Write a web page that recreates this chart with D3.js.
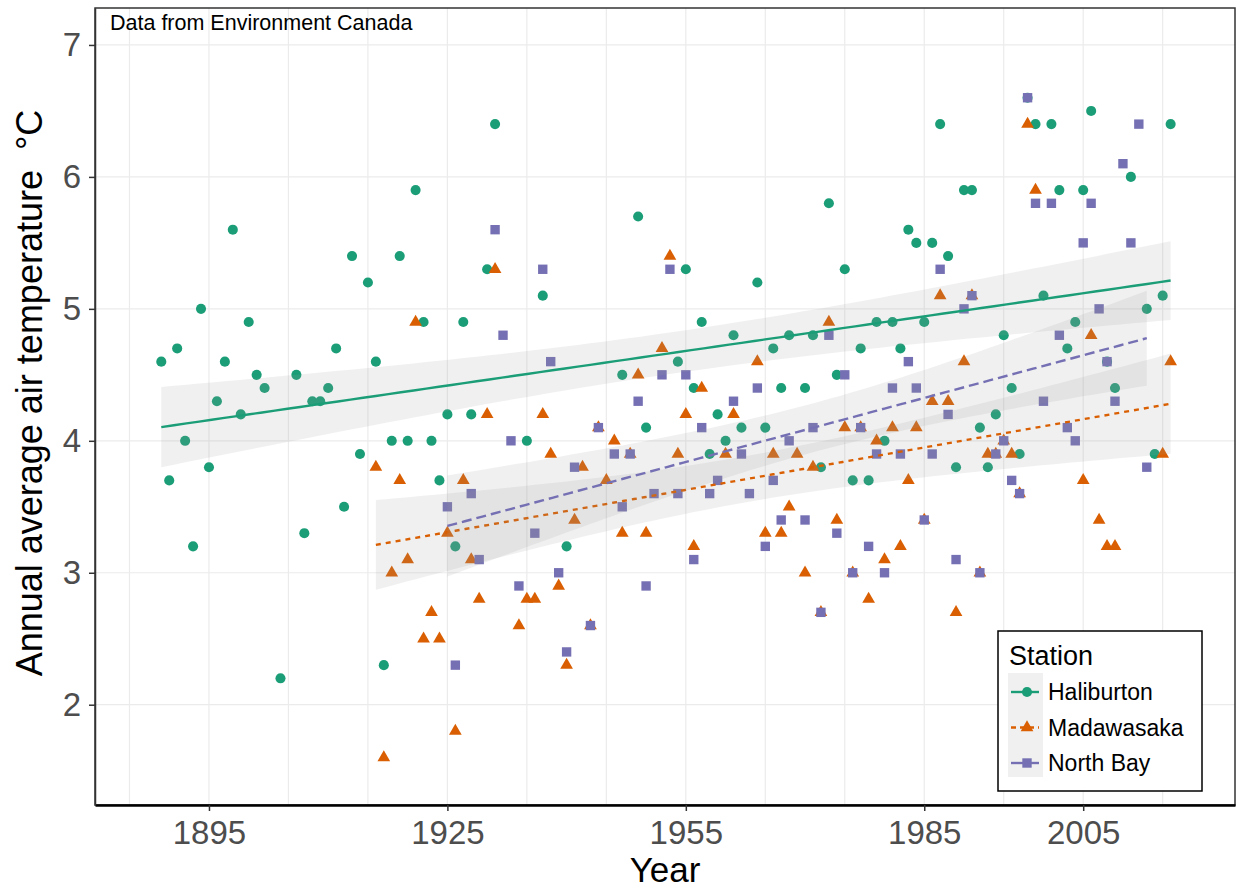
<!DOCTYPE html>
<html>
<head>
<meta charset="utf-8">
<script src="https://cdn.jsdelivr.net/npm/d3@7/dist/d3.min.js"></script>
<style>
  body { margin: 0; background: #fff; }
  svg { display: block; font-family: "Liberation Sans", Arial, sans-serif; }
</style>
</head>
<body>
<svg id="chart" width="1238" height="890"></svg>
<script>
// [year, annual average air temperature °C]
var haliburton = [
  [1889,4.6],[1890,3.7],[1891,4.7],[1892,4.0],[1893,3.2],[1894,5.0],[1895,3.8],[1896,4.3],
  [1897,4.6],[1898,5.6],[1899,4.2],[1900,4.9],[1901,4.5],[1902,4.4],[1904,2.2],[1906,4.5],
  [1907,3.3],[1908,4.3],[1909,4.3],[1910,4.4],[1911,4.7],[1912,3.5],[1913,5.4],[1914,3.9],
  [1915,5.2],[1916,4.6],[1917,2.3],[1918,4.0],[1919,5.4],[1920,4.0],[1921,5.9],[1922,4.9],
  [1923,4.0],[1924,3.7],[1925,4.2],[1926,3.2],[1927,4.9],[1928,4.2],[1930,5.3],[1931,6.4],
  [1935,4.0],[1937,5.1],[1940,3.2],[1947,4.5],[1949,5.7],[1950,4.1],[1954,4.6],[1955,5.3],
  [1956,4.4],[1957,4.9],[1958,3.9],[1959,4.2],[1960,4.0],[1961,4.8],[1962,4.1],[1964,5.2],
  [1965,4.1],[1966,4.7],[1967,4.4],[1968,4.8],[1970,4.4],[1971,4.8],[1972,3.8],[1973,5.8],
  [1974,4.5],[1975,5.3],[1976,3.7],[1977,4.7],[1978,3.7],[1979,4.9],[1980,4.0],[1981,4.9],
  [1982,4.7],[1983,5.6],[1984,5.5],[1985,4.9],[1986,5.5],[1987,6.4],[1988,5.4],[1989,3.8],
  [1990,5.9],[1991,5.9],[1992,4.1],[1993,3.8],[1994,4.2],[1995,4.8],[1996,4.4],[1997,3.9],
  [1998,6.6],[1999,6.4],[2000,5.1],[2001,6.4],[2002,5.9],[2003,4.7],[2004,4.9],[2005,5.9],
  [2006,6.5],[2008,4.6],[2009,4.4],[2011,6.0],[2013,5.0],[2014,3.9],[2015,5.1],[2016,6.4]
];
var madawasaka = [
  [1916,3.8],[1917,1.6],[1918,3.0],[1919,3.7],[1920,3.1],[1921,4.9],[1922,2.5],[1923,2.7],
  [1924,2.5],[1925,3.3],[1926,1.8],[1927,3.7],[1928,3.1],[1929,2.8],[1930,4.2],[1931,5.3],
  [1934,2.6],[1935,2.8],[1936,2.8],[1937,4.2],[1938,3.9],[1939,2.9],[1940,2.3],[1941,3.4],
  [1942,3.8],[1943,2.6],[1944,4.1],[1945,3.7],[1946,4.0],[1947,3.3],[1948,3.9],[1949,4.5],
  [1950,3.3],[1952,4.7],[1953,5.4],[1954,3.9],[1955,4.2],[1956,3.2],[1957,4.4],[1960,3.9],
  [1961,4.2],[1964,4.6],[1965,3.3],[1966,3.9],[1967,3.3],[1968,3.5],[1969,3.9],[1970,3.0],
  [1971,3.8],[1972,2.7],[1973,4.9],[1974,3.4],[1975,4.1],[1976,3.0],[1977,4.1],[1978,2.8],
  [1979,4.0],[1980,3.1],[1981,4.1],[1982,3.2],[1983,3.7],[1984,4.1],[1985,3.4],[1986,4.3],
  [1987,5.1],[1988,4.3],[1989,2.7],[1990,4.6],[1991,5.1],[1992,3.0],[1993,3.9],[1994,3.9],
  [1995,4.0],[1996,3.9],[1997,3.6],[1998,6.4],[1999,5.9],[2005,3.7],[2006,4.8],[2007,3.4],
  [2008,3.2],[2009,3.2],[2015,3.9],[2016,4.6]
];
var northBay = [
  [1925,3.5],[1926,2.3],[1928,3.6],[1929,3.1],[1931,5.6],[1932,4.8],[1933,4.0],[1934,2.9],
  [1936,3.3],[1937,5.3],[1938,4.6],[1939,3.0],[1940,2.4],[1941,3.8],[1943,2.6],[1944,4.1],
  [1946,3.9],[1947,3.5],[1948,3.9],[1949,4.3],[1950,2.9],[1951,3.6],[1952,4.5],[1953,5.3],
  [1954,3.6],[1955,4.5],[1956,3.1],[1957,4.1],[1958,3.6],[1959,3.7],[1961,4.3],[1962,3.9],
  [1963,3.6],[1964,4.4],[1965,3.2],[1966,3.7],[1967,3.4],[1968,4.0],[1970,3.4],[1971,4.1],
  [1972,2.7],[1973,4.8],[1974,3.3],[1975,4.5],[1976,3.0],[1977,4.1],[1978,3.2],[1979,3.9],
  [1980,3.0],[1981,4.4],[1982,3.9],[1983,4.6],[1984,4.4],[1985,3.4],[1986,3.9],[1987,5.3],
  [1988,4.2],[1989,3.1],[1990,5.0],[1991,5.1],[1992,3.0],[1994,3.9],[1995,4.0],[1996,3.7],
  [1997,3.6],[1998,6.6],[1999,5.8],[2000,4.3],[2001,5.8],[2002,4.8],[2003,4.1],[2004,4.0],
  [2005,5.5],[2006,5.8],[2007,5.0],[2008,4.6],[2009,4.3],[2010,6.1],[2011,5.5],[2012,6.4],
  [2013,3.8]
];

var stationNames = ["Haliburton", "Madawasaka", "North Bay"];
var stationColors = ["#1b9e77", "#d95f02", "#7570b3"];
var xTicks = [1895, 1925, 1955, 1985, 2005];
var yTicks = [2, 3, 4, 5, 6, 7];

var stations = [
  {name: stationNames[0], data: haliburton, color: stationColors[0], symbol: d3.symbolCircle, size: 80, dash: null},
  {name: stationNames[1], data: madawasaka, color: stationColors[1], symbol: d3.symbolTriangle, size: 70, dash: "5,5"},
  {name: stationNames[2], data: northBay, color: stationColors[2], symbol: d3.symbolSquare, size: 88, dash: "10,5"}
];

var svg = d3.select("#chart");
var margin = {top: 8, right: 3, bottom: 85, left: 95},
    width = 1238 - margin.left - margin.right,
    height = 890 - margin.top - margin.bottom;

var x = d3.scaleLinear().domain([1880.66, 2024.1]).range([0, width]);
var y = d3.scaleLinear().domain([1.24, 7.28]).range([height, 0]);

var g = svg.append("g").attr("transform", "translate(" + margin.left + "," + margin.top + ")");

svg.append("defs").append("clipPath").attr("id", "clip")
  .append("rect").attr("width", width).attr("height", height);

// grid
g.append("g").selectAll("line").data(d3.range(1885, 2016, 10)).enter().append("line")
  .attr("x1", function(d) { return x(d); }).attr("x2", function(d) { return x(d); })
  .attr("y1", 0).attr("y2", height)
  .attr("stroke", "#ebebeb").attr("stroke-width", 1.2);
g.append("g").selectAll("line").data(yTicks).enter().append("line")
  .attr("y1", function(d) { return y(d); }).attr("y2", function(d) { return y(d); })
  .attr("x1", 0).attr("x2", width)
  .attr("stroke", "#ebebeb").attr("stroke-width", 1.2);

var plot = g.append("g").attr("clip-path", "url(#clip)");

// points
stations.forEach(function(s) {
  plot.append("g").selectAll("path").data(s.data).enter().append("path")
    .attr("transform", function(d) { return "translate(" + x(d[0]) + "," + y(d[1]) + ")"; })
    .attr("d", d3.symbol().type(s.symbol).size(s.size))
    .attr("fill", s.color);
});

// linear fit with 95% confidence band
function tQuant(df) {
  var z = 1.959964;
  return z + (z * z * z + z) / (4 * df) + (5 * Math.pow(z, 5) + 16 * z * z * z + 3 * z) / (96 * df * df);
}
function fit(data) {
  var n = data.length;
  var mx = d3.mean(data, function(d) { return d[0]; });
  var my = d3.mean(data, function(d) { return d[1]; });
  var sxx = d3.sum(data, function(d) { return (d[0] - mx) * (d[0] - mx); });
  var sxy = d3.sum(data, function(d) { return (d[0] - mx) * (d[1] - my); });
  var b = sxy / sxx, a = my - b * mx;
  var sse = d3.sum(data, function(d) { var r = d[1] - (a + b * d[0]); return r * r; });
  var s = Math.sqrt(sse / (n - 2)), t = tQuant(n - 2);
  var x0 = d3.min(data, function(d) { return d[0]; }), x1 = d3.max(data, function(d) { return d[0]; });
  return d3.range(0, 81).map(function(i) {
    var xv = x0 + (x1 - x0) * i / 80;
    var yv = a + b * xv;
    var se = s * Math.sqrt(1 / n + (xv - mx) * (xv - mx) / sxx);
    return {x: xv, y: yv, lo: yv - t * se, hi: yv + t * se};
  });
}

var area = d3.area().x(function(d) { return x(d.x); })
  .y0(function(d) { return y(d.lo); }).y1(function(d) { return y(d.hi); });
var line = d3.line().x(function(d) { return x(d.x); }).y(function(d) { return y(d.y); });

stations.forEach(function(s) {
  var f = fit(s.data);
  plot.append("path").datum(f).attr("d", area)
    .attr("fill", "#999999").attr("fill-opacity", 0.15);
  plot.append("path").datum(f).attr("d", line)
    .attr("fill", "none").attr("stroke", s.color).attr("stroke-width", 2.4)
    .attr("stroke-dasharray", s.dash);
});

// panel border
g.append("rect").attr("width", width).attr("height", height)
  .attr("fill", "none").attr("stroke", "#333").attr("stroke-width", 1.5);

// axes
var xAxis = g.append("g").attr("transform", "translate(0," + height + ")")
  .call(d3.axisBottom(x).tickValues(xTicks).tickFormat(d3.format("d"))
    .tickSize(6).tickSizeOuter(0).tickPadding(10));
xAxis.select(".domain").attr("stroke", "#000").attr("stroke-width", 2.5);
xAxis.selectAll(".tick line").attr("stroke", "#333").attr("stroke-width", 1.5);
xAxis.selectAll("text").attr("fill", "#4d4d4d").style("font-size", "33px")
  .style("font-family", "'Liberation Sans', Arial, sans-serif");

var yAxis = g.append("g")
  .call(d3.axisLeft(y).tickValues(yTicks).tickFormat(d3.format("d"))
    .tickSize(6).tickSizeOuter(0).tickPadding(8));
yAxis.select(".domain").attr("stroke", "#333").attr("stroke-width", 1.5);
yAxis.selectAll(".tick line").attr("stroke", "#333").attr("stroke-width", 1.5);
yAxis.selectAll("text").attr("fill", "#4d4d4d").style("font-size", "33px")
  .style("font-family", "'Liberation Sans', Arial, sans-serif");

// titles
svg.append("text").attr("x", margin.left + width / 2).attr("y", 882)
  .attr("text-anchor", "middle").style("font-size", "35px").attr("fill", "#000").text("Year");
svg.append("text").attr("transform", "translate(42,393) rotate(-90)")
  .attr("text-anchor", "middle").style("font-size", "36px").style("white-space", "pre")
  .attr("fill", "#000")
  .text("Annual average air temperature  \u00B0C");

svg.append("text").attr("x", 110).attr("y", 30).style("font-size", "21.5px").attr("fill", "#000")
  .text("Data from Environment Canada");

// legend
var leg = svg.append("g").attr("transform", "translate(998,631)");
leg.append("rect").attr("width", 204).attr("height", 160)
  .attr("fill", "#fff").attr("stroke", "#000").attr("stroke-width", 1.5);
leg.append("text").attr("x", 11).attr("y", 34).style("font-size", "27px").attr("fill", "#000").text("Station");
leg.append("rect").attr("x", 10).attr("y", 42).attr("width", 35).attr("height", 104).attr("fill", "#f0f0f0");
stations.forEach(function(s, i) {
  var cy = 61 + i * 35.5;
  leg.append("line").attr("x1", 13).attr("x2", 41).attr("y1", cy).attr("y2", cy)
    .attr("stroke", s.color).attr("stroke-width", 2.4)
    .attr("stroke-dasharray", i === 1 ? "5,4" : null);
  leg.append("path").attr("transform", "translate(29," + cy + ")")
    .attr("d", d3.symbol().type(s.symbol).size(s.size)).attr("fill", s.color);
  leg.append("text").attr("x", 50).attr("y", cy + 8).style("font-size", "23px").attr("fill", "#000").text(s.name);
});
</script>
</body>
</html>
